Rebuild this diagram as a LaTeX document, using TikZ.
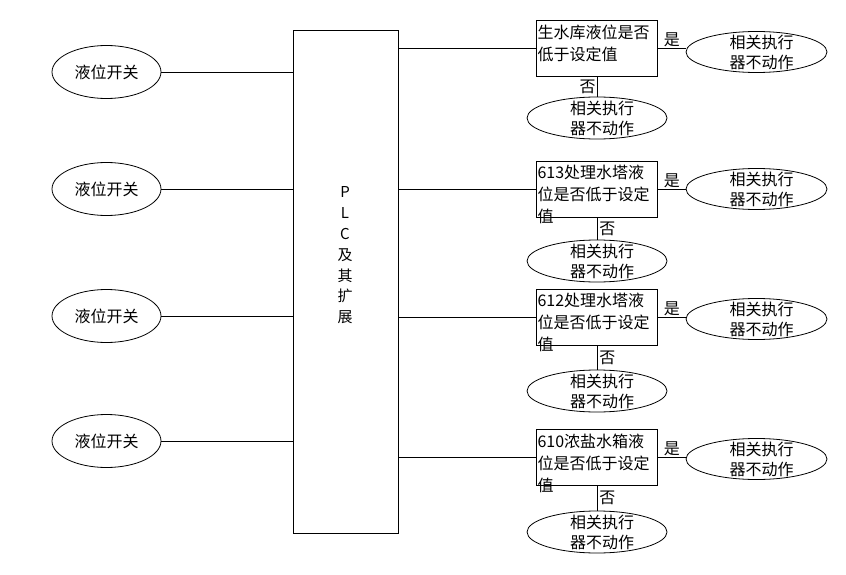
\documentclass[tikz,border=0pt]{standalone}
\usepackage{fontspec}
\newfontfamily\cjk{Noto Sans CJK SC}
\usetikzlibrary{shapes.geometric,positioning}
\tikzset{>=latex}

\begin{document}
\begin{tikzpicture}[x=1pt,y=-1pt,line width=0.8pt,
  every node/.style={font=\cjk\fontsize{16}{22}\selectfont},
  sw/.style={draw,ellipse,minimum width=109pt,minimum height=53pt,inner sep=0pt},
  act/.style={draw,ellipse,minimum width=141pt,minimum height=41pt,inner sep=0pt},
  chk/.style={draw,minimum width=121pt,minimum height=56pt,inner sep=0pt},
  chktxt/.style={align=left,inner sep=2pt,anchor=north west,xshift=-1pt,yshift=-2pt},
  acttxt/.style={align=center,inner sep=0pt,xshift=5pt,font=\cjk\fontsize{16}{20}\selectfont}]
\useasboundingbox (0,0) rectangle (846,575);
% PLC
\node[draw,minimum width=105pt,minimum height=503pt] (plc) at (345.5,281.5) {};
\node[align=center,font=\cjk\fontsize{15}{20.8}\selectfont] (plct) at (345,255.5) {P\\L\\C\\及\\其\\扩\\展};
% left switches
\node[sw] (s1) at (106.5,72) {液位开关};
\node[sw] (s2) at (106.5,189) {液位开关};
\node[sw] (s3) at (106.5,316) {液位开关};
\node[sw] (s4) at (106.5,441) {液位开关};
\draw (s1) -- (s1 -| plc.west);
\draw (s2) -- (s2 -| plc.west);
\draw (s3) -- (s3 -| plc.west);
\draw (s4) -- (s4 -| plc.west);
% checks
\node[chk] (b1) at (597,48.5) {};
\node[chk] (b2) at (597,189) {};
\node[chk] (b3) at (597,317) {};
\node[chk] (b4) at (597,457.5) {};
\node[chktxt] (b1t) at (b1.north west) {生水库液位是否\\低于设定值};
\node[chktxt] (b2t) at (b2.north west) {613处理水塔液\\位是否低于设定\\值};
\node[chktxt] (b3t) at (b3.north west) {612处理水塔液\\位是否低于设定\\值};
\node[chktxt] (b4t) at (b4.north west) {610浓盐水箱液\\位是否低于设定\\值};
\draw (b1 -| plc.east) -- (b1);
\draw (b2 -| plc.east) -- (b2);
\draw (b3 -| plc.east) -- (b3);
\draw (b4 -| plc.east) -- (b4);
% yes
\node[act] (r1) at (756.5,52) {};
\node[act] (r2) at (756.5,189) {};
\node[act] (r3) at (756.5,319) {};
\node[act] (r4) at (756.5,459) {};
\node[acttxt] (r1t) at (r1) {相关执行\\器不动作};
\node[acttxt] (r2t) at (r2) {相关执行\\器不动作};
\node[acttxt] (r3t) at (r3) {相关执行\\器不动作};
\node[acttxt] (r4t) at (r4) {相关执行\\器不动作};
\draw (b1.east) -- (b1.east -| r1.west) node[midway,above,inner sep=1pt] (y1) {是};
\draw (b2.east) -- (b2.east -| r2.west) node[midway,above,inner sep=1pt] (y2) {是};
\draw (b3.east) -- (b3.east -| r3.west) node[midway,above,inner sep=1pt] (y3) {是};
\draw (b4.east) -- (b4.east -| r4.west) node[midway,above,inner sep=1pt] (y4) {是};
% no
\node[act,minimum width=140pt,minimum height=42pt] (n1) at (597,118) {};
\node[act,minimum width=140pt,minimum height=42pt] (n2) at (597,261) {};
\node[act,minimum width=140pt,minimum height=42pt] (n3) at (597,391) {};
\node[act,minimum width=140pt,minimum height=42pt] (n4) at (597,532) {};
\node[acttxt] (n1t) at (n1) {相关执行\\器不动作};
\node[acttxt] (n2t) at (n2) {相关执行\\器不动作};
\node[acttxt] (n3t) at (n3) {相关执行\\器不动作};
\node[acttxt] (n4t) at (n4) {相关执行\\器不动作};
\draw (b1) -- (n1) node[midway,left,inner sep=1pt] (f1) {否};
\draw (b2) -- (n2) node[midway,right,inner sep=2pt] (f2) {否};
\draw (b3) -- (n3) node[midway,right,inner sep=2pt] (f3) {否};
\draw (b4) -- (n4) node[midway,right,inner sep=2pt] (f4) {否};
\end{tikzpicture}
\end{document}
